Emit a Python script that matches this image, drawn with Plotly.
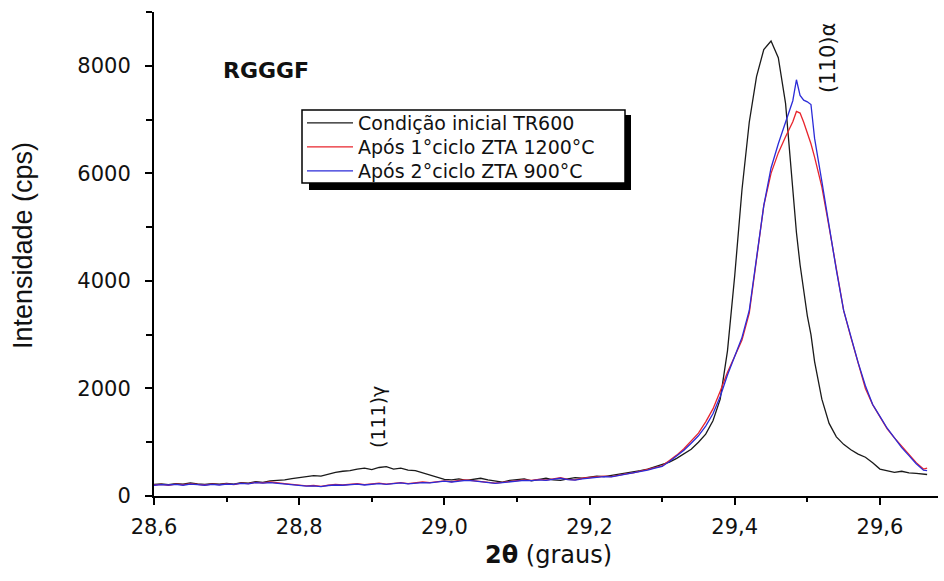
import plotly.graph_objects as go

# 2-theta grid (degrees)
two_theta = [
    28.60, 28.61, 28.62, 28.63, 28.64, 28.65, 28.66, 28.67, 28.68, 28.69,
    28.70, 28.71, 28.72, 28.73, 28.74, 28.75, 28.76, 28.77, 28.78, 28.79,
    28.80, 28.81, 28.82, 28.83, 28.84, 28.85, 28.86, 28.87, 28.88, 28.89,
    28.90, 28.91, 28.92, 28.93, 28.94, 28.95, 28.96, 28.97, 28.98, 28.99,
    29.00, 29.01, 29.02, 29.03, 29.04, 29.05, 29.06, 29.07, 29.08, 29.09,
    29.10, 29.11, 29.12, 29.13, 29.14, 29.15, 29.16, 29.17, 29.18, 29.19,
    29.20, 29.21, 29.22, 29.23, 29.24, 29.25, 29.26, 29.27, 29.28, 29.29,
    29.30, 29.31, 29.32, 29.33, 29.34, 29.35, 29.36, 29.37, 29.38, 29.39,
    29.40, 29.41, 29.42, 29.43, 29.44, 29.45, 29.46, 29.47, 29.48, 29.485,
    29.49, 29.495, 29.50, 29.505, 29.51, 29.52, 29.53, 29.54, 29.55, 29.56,
    29.57, 29.58, 29.59, 29.60, 29.61, 29.62, 29.63, 29.64, 29.65, 29.66,
    29.665,
]

# Intensity (cps)
inicial_tr600 = [
    215, 225, 210, 230, 220, 245, 225, 215, 230, 220,
    235, 220, 250, 240, 265, 255, 280, 290, 300, 325,
    340, 360, 380, 370, 410, 440, 460, 470, 500, 520,
    490, 530, 545, 500, 520, 480, 470, 430, 390, 350,
    310, 300, 320, 290, 305, 330, 300, 280, 260, 290,
    300, 320, 280, 310, 330, 300, 290, 320, 340, 330,
    350, 370, 360, 380, 400, 420, 450, 470, 500, 540,
    580, 630, 700, 780, 870, 1000, 1150, 1400, 1800, 2700,
    4100, 5700, 6950, 7800, 8300, 8460, 8150, 7300, 5600, 4900,
    4300, 3850, 3350, 3000, 2500, 1800, 1350, 1100, 960, 860,
    780, 720, 620, 500, 470, 440, 460, 430, 420, 410,
    400,
]

ciclo1_zta1200 = [
    205, 215, 200, 220, 210, 225, 215, 205, 220, 210,
    225, 210, 240, 230, 255, 245, 260, 240, 230, 215,
    200, 190, 195, 180, 200, 215, 205, 220, 230, 210,
    225, 240, 220, 235, 250, 230, 245, 260, 250, 270,
    280, 265, 290, 300, 285, 270, 250, 240, 255, 270,
    280, 300, 290, 310, 295, 320, 340, 310, 300, 330,
    345, 350, 370, 360, 390, 410, 430, 460, 490, 530,
    560, 660, 760, 880, 1020, 1170, 1380, 1620, 1950, 2300,
    2600, 2900, 3400, 4400, 5400, 6000, 6380, 6680, 6960, 7150,
    7120, 6950, 6750, 6550, 6300, 5750, 5000, 4200, 3450, 2950,
    2450, 2000, 1700, 1480, 1250, 1080, 920, 760, 620, 500,
    520,
]

ciclo2_zta900 = [
    200, 210, 205, 215, 200, 220, 210, 200, 215, 205,
    220, 215, 235, 225, 250, 240, 250, 235, 220, 210,
    195, 185, 190, 175, 195, 205, 200, 215, 220, 205,
    220, 230, 215, 230, 245, 225, 240, 250, 245, 265,
    275, 260, 280, 290, 280, 265, 245, 235, 250, 265,
    275, 290, 285, 300, 290, 310, 330, 305, 295, 320,
    335, 345, 360, 355, 380, 400, 420, 450, 480, 520,
    550, 640, 740, 850, 980, 1120, 1300, 1530, 1850, 2250,
    2600, 2950, 3450, 4400, 5400, 6100, 6550, 6950, 7350, 7740,
    7450, 7360, 7330, 7280, 6650, 5850, 5000, 4200, 3450, 2950,
    2480, 2050, 1700, 1480, 1260, 1080, 900, 750, 600, 480,
    470,
]

series_names = [
    "Condição inicial TR600",
    "Após 1°ciclo ZTA 1200°C",
    "Após 2°ciclo ZTA 900°C",
]
series_values = [inicial_tr600, ciclo1_zta1200, ciclo2_zta900]
series_colors = ["#1a1a1a", "#e8242c", "#2b2bd8"]

x_ticks = [28.6, 28.8, 29.0, 29.2, 29.4, 29.6]
y_ticks = [0, 2000, 4000, 6000, 8000]

W, H = 944, 581
ML, MR, MT, MB = 154, 6, 12, 85
PW, PH = W - ML - MR, H - MT - MB


def px_to_paper(px, py):
    return (px - ML) / PW, (H - MB - py) / PH


legend_ids = ["legend", "legend2", "legend3"]
legend_rows_px = [123, 147, 171]

fig = go.Figure()
for name, vals, col, lid in zip(series_names, series_values, series_colors, legend_ids):
    fig.add_trace(go.Scatter(
        x=two_theta, y=vals, mode="lines", name=name, legend=lid,
        line=dict(color=col, width=1.3),
    ))

tick_font = dict(family="DejaVu Sans", size=21, color="#111")

legend_layout = {}
for lid, ry in zip(legend_ids, legend_rows_px):
    lx, ly = px_to_paper(302, ry)
    legend_layout[lid] = dict(
        x=lx, y=ly, xanchor="left", yanchor="middle",
        bgcolor="rgba(0,0,0,0)", borderwidth=0,
        font=dict(family="DejaVu Sans", size=19, color="#111"),
        itemwidth=46,
    )

fig.update_layout(
    width=W, height=H,
    margin=dict(l=ML, r=MR, t=MT, b=MB, pad=0),
    paper_bgcolor="white", plot_bgcolor="white",
    separators=",.",
    showlegend=True,
    xaxis=dict(
        range=[28.6, 29.68], tickvals=x_ticks, tickformat=".1f",
        ticks="outside", ticklen=7, tickwidth=2, tickcolor="black",
        showline=True, linecolor="black", linewidth=2,
        showgrid=False, zeroline=False, tickfont=tick_font,
        ticklabelstandoff=4,
        minor=dict(dtick=0.1, tick0=28.6, ticks="outside", ticklen=4,
                   tickwidth=1.5, tickcolor="black", showgrid=False),
    ),
    yaxis=dict(
        range=[0, 9000], tickvals=y_ticks,
        ticks="outside", ticklen=7, tickwidth=2, tickcolor="black",
        showline=True, linecolor="black", linewidth=2,
        showgrid=False, zeroline=False, tickfont=tick_font,
        ticklabelstandoff=10,
        minor=dict(dtick=1000, tick0=0, ticks="outside", ticklen=6,
                   tickwidth=1.5, tickcolor="black", showgrid=False),
    ),
    **legend_layout,
)


def label(px, py, text, size, family="DejaVu Sans", angle=0):
    x, y = px_to_paper(px, py)
    fig.add_annotation(xref="paper", yref="paper", x=x, y=y, showarrow=False,
                       xanchor="center", yanchor="middle",
                       text=text, textangle=angle,
                       font=dict(family=family, size=size, color="#111"))


# axis titles
label(23, 246, "Intensidade (cps)", 27, family="Liberation Sans", angle=-90)
label(548, 555, "<b>2θ</b> (graus)", 24)

# labels inside the plot
label(266, 70, "<b>RGGGF</b>", 22)
label(378, 417, "(111)γ", 19, angle=-90)
label(828, 58, "(110)α", 21, angle=-90)

# legend frame with drop shadow
for (x0p, y0p, x1p, y1p, fill, lw) in [
    (309, 190, 631, 115, "black", 0),
    (302, 183, 625, 110, "white", 1.5),
]:
    x0, y0 = px_to_paper(x0p, y0p)
    x1, y1 = px_to_paper(x1p, y1p)
    fig.add_shape(type="rect", xref="paper", yref="paper",
                  x0=x0, y0=y0, x1=x1, y1=y1, fillcolor=fill,
                  line=dict(width=lw, color="black"), layer="above")

fig.write_html("out.html")
